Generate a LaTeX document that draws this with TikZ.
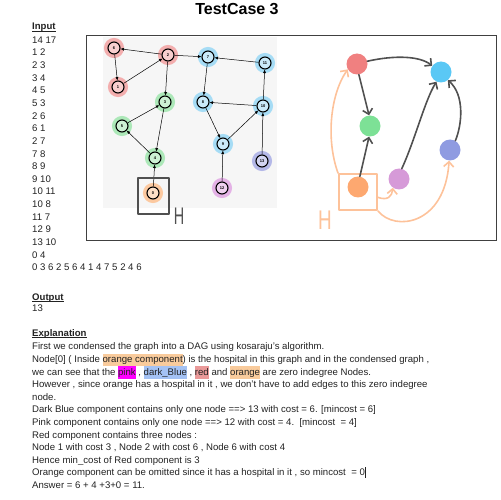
\documentclass[tikz,border=0pt]{standalone}
\usepackage{fontspec}
\setmainfont{Liberation Sans}
\usetikzlibrary{arrows.meta,positioning}

\definecolor{textgray}{HTML}{222222}
\definecolor{redhalo}{HTML}{F3AEAE}
\definecolor{greenhalo}{HTML}{ACE8B8}
\definecolor{bluehalo}{HTML}{A6DCF5}
\definecolor{orangehalo}{HTML}{FCC9A0}
\definecolor{pinkhalo}{HTML}{E4B2E6}
\definecolor{violethalo}{HTML}{B4B8E8}
\definecolor{graphbg}{HTML}{F6F6F6}
\definecolor{sketchgray}{HTML}{505050}
\definecolor{sketchorange}{HTML}{FDC29A}
\definecolor{sccred}{HTML}{F08080}
\definecolor{scccyan}{HTML}{5AC8F5}
\definecolor{sccgreen}{HTML}{7DE196}
\definecolor{sccblue}{HTML}{8F9BE1}
\definecolor{sccpink}{HTML}{D69AD8}
\definecolor{sccorange}{HTML}{FDA870}
\definecolor{orangehl}{HTML}{F9CB9C}
\definecolor{pinkhl}{HTML}{FF00FF}
\definecolor{bluehl}{HTML}{A4C2F4}
\definecolor{redhl}{HTML}{EA9999}

\newcommand{\hlite}[2]{{\setlength{\fboxsep}{0pt}\colorbox{#1}{\strut#2}}}
\newcommand{\ulhead}[1]{\setbox0\hbox{#1}\rlap{\rule[-1.6pt]{\wd0}{0.8pt}}\box0}

\tikzset{
  txt/.style={anchor=base west, inner sep=0pt, text=textgray,
    font=\fontsize{9.6}{12.6}\selectfont},
  head/.style={txt, font=\fontsize{9.6}{12.6}\selectfont\bfseries},
  gnode/.style={circle, draw=black, line width=1.1pt, minimum size=12pt,
    inner sep=0pt, fill=#1!60!white, preaction={draw=#1, line width=8pt},
    font=\fontsize{4}{4}\selectfont\bfseries},
  gedge/.style={-{Latex[length=3.5pt,width=3pt]}, line width=0.5pt},
  sccnode/.style={circle, fill=#1, minimum size=21pt, inner sep=0pt},
  sketch/.style={-{Straight Barb[length=5pt,width=10pt]}, line width=1.6pt,
    draw=sketchgray, line cap=round},
  hospbox/.style={draw=#1, line width=2pt, inner sep=0pt, line join=round}
}

\begin{document}
\begin{tikzpicture}[x=1pt, y=-1pt]
        \useasboundingbox (0,0) rectangle (501,500);
        % title and input
        \node[inner sep=0pt, font=\fontsize{16}{16}\selectfont\bfseries] (title) at (237,9.5) {TestCase 3};
        \node[head] (input) at (32,30) {\ulhead{Input}};
        \foreach \t [count=\i] in {14 17, 1 2, 2 3, 3 4, 4 5, 5 3, 2 6, 6 1, 2 7, 7 8,
            8 9, 9 10, 10 11, 10 8, 11 7, 12 9, 13 10, 0 4, 0 3 6 2 5 6 4 1 4 7 5 2 4 6} {
            \node[txt] (in\i) at (32,{43.2+12.65*(\i-1)}) {\t};
        }

        % panel with the two drawings
        \draw[black!75, line width=0.9pt] (86.5,35) rectangle (496,240);
        \fill[graphbg] (103,37) rectangle (277,208);

        % original graph
        \foreach \n/\x/\y/\c in {6/114/48/redhalo, 2/168/55/redhalo, 1/118/87/redhalo,
            3/165/102/greenhalo, 5/122/126/greenhalo, 4/155/158/greenhalo,
            7/208/57/bluehalo, 11/265/63/bluehalo, 8/203/102/bluehalo,
            10/263/106/bluehalo, 9/223/144/bluehalo, 0/153/193/orangehalo,
            12/222/188/pinkhalo, 13/262/161/violethalo} {
            \node[gnode=\c] (n\n) at (\x,\y) {\n};
        }
        \foreach \a/\b in {1/2, 2/3, 3/4, 4/5, 5/3, 2/6, 6/1, 2/7, 7/8, 8/9,
            9/10, 10/11, 10/8, 11/7, 12/9, 13/10, 0/4} {
            \draw[gedge] (n\a) -- (n\b);
        }
        \node[hospbox=sketchgray, minimum width=31pt, minimum height=36pt] (box0) at (153.5,196) {};
        \node[inner sep=0pt, text=sketchgray, font=\fontsize{24}{24}\selectfont] (hleft) at (179,216) {\scalebox{0.6}[1]{H}};

        % condensed graph
        \node[sccnode=sccred] (R) at (357,64) {};
        \node[sccnode=scccyan] (C) at (441,72) {};
        \node[sccnode=sccgreen] (G) at (370,126) {};
        \node[sccnode=sccblue] (B) at (450,150) {};
        \node[sccnode=sccpink] (P) at (399,179) {};
        \node[sccnode=sccorange] (O) at (358,187) {};
        \node[hospbox=sketchorange, minimum width=38pt, minimum height=36pt] (boxO) at (358,192) {};
        \node[inner sep=0pt, text=sketchorange, font=\fontsize{27}{27}\selectfont] (hright) at (325,220) {\scalebox{0.7}[1]{H}};

        \draw[sketch] (R.15) .. controls (395,55) and (420,56) .. (C.145);
        \draw[sketch] (R.-80) -- (G.95);
        \draw[sketch] (O.80) -- (G.-95);
        \draw[sketch] (P.75) .. controls (415,140) and (425,100) .. (C.-115);
        \draw[sketch] (B.60) .. controls (462,125) and (465,95) .. (C.-50);
        \draw[sketch, draw=sketchorange] (boxO.north west) .. controls (326,140) and (330,95) .. (R.-150);
        \draw[sketch, draw=sketchorange] (boxO.-15) .. controls (388,201) and (392,196) .. (P.-125);
        \draw[sketch, draw=sketchorange] (boxO.south east) .. controls (395,232) and (445,225) .. (B.-95);

        % output and explanation
        \node[head] (output) at (32,300) {\ulhead{Output}};
        \node[txt] (result) at (32,311.7) {13};
        \node[head] (expl) at (32,336.5) {\ulhead{Explanation}};
        \foreach \t [count=\i] in {
            {First we condensed the graph into a DAG using kosaraju's algorithm.},
            {Node[0] ( Inside \hlite{orangehl}{orange component}) is the hospital in this graph and in the condensed graph ,},
            {we can see that the \hlite{pinkhl}{pink} , \hlite{bluehl}{dark\_Blue} , \hlite{redhl}{red} and \hlite{orangehl}{orange} are zero indegree Nodes.},
            {However , since orange has a hospital in it , we don't have to add edges to this zero indegree},
            {node.},
            {Dark Blue component contains only one node ==> 13 with cost = 6. [mincost = 6]},
            {Pink component contains only one node ==> 12 with cost = 4.\ \ [mincost\ \ = 4]},
            {Red component contains three nodes :},
            {Node 1 with cost 3 , Node 2 with cost 6 , Node 6 with cost 4},
            {Hence min\_cost of Red component is 3},
            {Orange component can be omitted since it has a hospital in it , so mincost\ \ = 0\rule[-2pt]{0.6pt}{11pt}},
            {Answer = 6 + 4 +3+0 = 11.}} {
            \node[txt] (ex\i) at (32,{349.8+12.6*(\i-1)}) {\t};
        }
    \end{tikzpicture}
\end{document}
